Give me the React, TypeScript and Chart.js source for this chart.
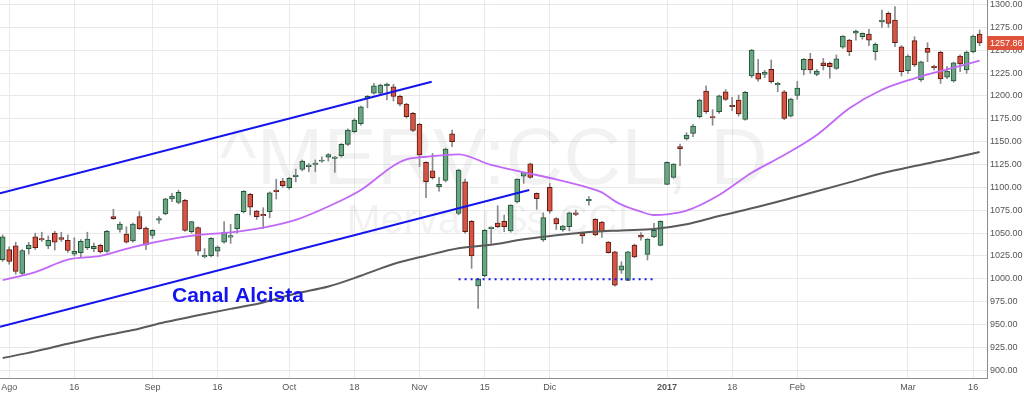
import React, { useEffect, useRef } from 'react';
import { Chart, registerables } from 'chart.js';

Chart.register(...registerables);

// One entry per trading day (index 0 = first candle, Jul 29 2016)
const opens = [
  1021, 1032, 1036, 1006, 1033, 1046, 1044, 1036, 1050, 1045, 1042, 1027, 1028.5, 1034, 1033, 1036.6, 1030, 1068, 1054, 1049, 1041.6, 1068, 1055.6, 1047.6, 1064.3, 1071,
  1087.3, 1083.7, 1085.8, 1051.5, 1056, 1024, 1025.3, 1030.4, 1040, 1045.7, 1055, 1073.4, 1092.4, 1074, 1070.5, 1073.4, 1097, 1107, 1099.6, 1111.7, 1119.7, 1122.6, 1125.2, 1128.8, 1133, 1131.8,
  1134.6, 1147, 1161, 1169.6, 1197.4, 1203, 1203, 1211, 1210, 1199.6, 1191, 1181, 1169, 1127.4, 1118, 1100.4, 1107.7, 1158.7, 1071.6, 1106.2, 1063, 992.4, 1003.5, 1055, 1061,
  1063, 1052.3, 1084, 1112.3, 1125.8, 1093.5, 1042.6, 1100, 1066, 1053.4, 1057, 1072.3, 1050, 1085.4, 1065, 1062, 1040.3, 1029.6, 1009.6, 998.4, 1037, 1047.8, 1026.8, 1045.8, 1036.6,
  1103.3, 1111, 1144.5, 1152.9, 1159, 1177.3, 1205.4, 1177.3, 1182.8, 1204.6, 1189.8, 1195.6, 1174.4, 1222, 1224.7, 1223.6, 1229, 1212.3, 1204.6, 1178, 1200.7, 1228.4, 1240, 1223.6, 1236.3, 1235.7,
  1230.2, 1253.2, 1261, 1268.5, 1264.8, 1267.7, 1248.4, 1281, 1290.4, 1283, 1253.8, 1227.6, 1260.4, 1217.4, 1252, 1232.4, 1247.7, 1220.4, 1216.3, 1243.7, 1228.4, 1248.4, 1267.7,
];
const highs = [
  1048, 1035, 1040, 1032, 1040, 1050, 1051, 1047, 1052, 1051, 1048, 1045, 1043, 1051, 1039, 1038, 1053, 1076, 1062, 1057, 1061, 1073.5, 1057, 1054, 1068, 1088,
  1093.5, 1097, 1087, 1063, 1057, 1033, 1045, 1036, 1062.5, 1059.6, 1071, 1096.5, 1093.5, 1075, 1077.8, 1095, 1109, 1110, 1111, 1120, 1130, 1126, 1130, 1133.5, 1137, 1134,
  1148, 1164, 1175, 1189, 1200.5, 1213.8, 1213, 1214, 1212.7, 1201, 1192, 1182, 1170, 1128, 1137.2, 1110.6, 1143, 1162.7, 1120, 1109, 1064, 1000.5, 1054, 1057, 1080,
  1069.8, 1081, 1109.5, 1117, 1126.5, 1094, 1072.3, 1104.4, 1067, 1058.5, 1073, 1075.3, 1051, 1090, 1066, 1063, 1041, 1030, 1018.7, 1030, 1038, 1050.5, 1044, 1060.7, 1063.5,
  1128, 1126, 1147.4, 1159.8, 1169, 1196.5, 1211, 1185, 1201, 1207, 1198.5, 1201, 1205, 1251, 1240, 1228, 1239.3, 1215, 1206, 1197.5, 1216, 1241, 1246.6, 1229, 1241, 1237,
  1244.8, 1266, 1262, 1272, 1269, 1272.9, 1258, 1294, 1292, 1297.6, 1255, 1245, 1264.8, 1238, 1258.2, 1233.8, 1249, 1232, 1237, 1245, 1249, 1266.5, 1272,
];
const lows = [
  1019, 1016, 1005, 1004, 1027, 1032, 1041, 1033, 1031.5, 1041, 1029, 1025, 1024, 1032, 1029.6, 1028, 1029, 1065, 1051, 1039, 1040, 1054, 1032, 1044.3, 1060.7, 1070,
  1084.3, 1082, 1052, 1050, 1026, 1023, 1024, 1024.6, 1039, 1038.8, 1050, 1072, 1069.8, 1065, 1055, 1066.8, 1087.3, 1100, 1098, 1106, 1118, 1117, 1117, 1127.4, 1128.8, 1116.5,
  1133, 1146, 1160, 1168, 1187, 1202, 1202, 1195.6, 1194.5, 1189, 1176, 1161, 1122.6, 1088.7, 1109, 1096, 1106, 1144.5, 1070, 1050, 1011.5, 967.7, 1002, 1038.8, 1056,
  1051.5, 1051, 1083, 1104.4, 1110, 1076, 1041, 1071.6, 1054, 1052, 1052.6, 1069, 1038.8, 1080.7, 1047, 1045.4, 1028, 992, 1006, 998, 1023, 1042.4, 1020.6, 1045, 1036,
  1103, 1110, 1123.7, 1151.8, 1155.4, 1176, 1181, 1168, 1181, 1195, 1183.9, 1178, 1173.5, 1220, 1216, 1220, 1214, 1204.6, 1174, 1177, 1196.3, 1223, 1224.7, 1222, 1228.4, 1219.3,
  1229, 1252, 1244, 1261, 1262, 1255, 1239.3, 1275, 1275, 1253.9, 1221.8, 1224.7, 1232, 1216, 1237.4, 1228.4, 1213.6, 1219, 1215, 1226.5, 1224.7, 1247, 1255,
];
const closes = [
  1046, 1019, 1008, 1031, 1037, 1034, 1042.5, 1042, 1040, 1043, 1031, 1030, 1041, 1043.5, 1035.5, 1029.6, 1052, 1065.7, 1060, 1040, 1060, 1055, 1037, 1053, 1066, 1087.5,
  1090.6, 1094.6, 1053, 1062.5, 1030.4, 1025.7, 1044.3, 1034.8, 1051, 1047.3, 1070.5, 1095.7, 1078.5, 1068, 1069, 1094, 1095.3, 1102, 1110, 1113.5, 1128.8, 1124.5, 1126.6, 1130, 1136, 1133.2,
  1147, 1162.7, 1173.7, 1188, 1199.6, 1211, 1212, 1213, 1199.6, 1191, 1177.3, 1162.4, 1135.4, 1106.2, 1110.6, 1103.3, 1142, 1150, 1119, 1051.5, 1025, 1000, 1053, 1056.6, 1057,
  1057, 1080.7, 1109, 1116.6, 1111, 1087.6, 1067, 1074, 1060, 1057.8, 1072.3, 1070.5, 1047, 1087, 1048, 1051.5, 1028.6, 993, 1014.3, 1029.6, 1024, 1045.6, 1043.5, 1053, 1062.8,
  1127.4, 1125.5, 1142.3, 1157.3, 1167, 1195.6, 1182.8, 1176.2, 1200, 1196.3, 1188.2, 1180.3, 1204, 1250.2, 1218.2, 1226.2, 1215.6, 1213.8, 1175.5, 1196.6, 1208.7, 1240, 1228.4, 1227.3, 1233, 1232,
  1240.7, 1265.5, 1248.4, 1271, 1268.5, 1261, 1256.5, 1283, 1279.4, 1258.2, 1226.5, 1243.7, 1233.8, 1237.4, 1247.7, 1231, 1218.5, 1227.3, 1236.3, 1234.9, 1248, 1265.5, 1257.86,
];

// Moving averages at selected candle indices
const maFastIdx = [0, 5, 10, 15, 20, 25, 30, 35, 40, 45, 50, 55, 60, 62, 65, 70, 75, 80, 85, 90, 92, 94, 95, 98, 100, 102, 105, 110, 115, 120, 125, 130, 135, 140, 145, 150];
const maFast = [998.7, 1007.4, 1021.1, 1025.1, 1034.8, 1042.4, 1048.1, 1050.9, 1056.1, 1064.5, 1079.1, 1097.1, 1123.7, 1130.6, 1133.5, 1136.2, 1124.5, 1116.5, 1108.8, 1099.6, 1094.6, 1085, 1081.2, 1073.4, 1069.8, 1070.5, 1074.5, 1091.7, 1116, 1135.4, 1157.3, 1186.5, 1206.8, 1219.3, 1229.1, 1238.5];
const maSlowIdx = [0, 5, 10, 15, 20, 25, 30, 35, 40, 45, 50, 55, 60, 65, 70, 75, 80, 85, 90, 95, 100, 105, 110, 115, 120, 125, 130, 135, 140, 145, 150];
const maSlow = [913.4, 920.7, 929, 936.9, 944, 952.8, 960.1, 967.2, 974.2, 983.9, 991.6, 1003.4, 1016.2, 1025.3, 1033.4, 1037.3, 1043.2, 1047.6, 1051.2, 1053, 1054.5, 1059.6, 1068.7, 1077.1, 1086.2, 1095.7, 1105.5, 1115.4, 1123.4, 1130.7, 1138.7];

// Drawn trend lines (index, price)
const upperChannel = [{ x: -0.41, y: 1093.5 }, { x: 65.87, y: 1215.6 }];
const lowerChannel = [{ x: -0.41, y: 947.6 }, { x: 80.85, y: 1097.1 }];
const supportLine = [{ x: 70, y: 999.5 }, { x: 100, y: 999.5 }];
const channelLabel = { text: 'Canal Alcista', x: 26, y: 975 };

const xTickIdx = [1, 11, 23, 33, 44, 54, 64, 74, 84, 102, 112, 122, 139, 149];
const xTickLabels = ['Ago', '16', 'Sep', '16', 'Oct', '18', 'Nov', '15', 'Dic', '2017', '18', 'Feb', 'Mar', '16'];
const yTickValues = [900, 925, 950, 975, 1000, 1025, 1050, 1075, 1100, 1125, 1150, 1175, 1200, 1225, 1250, 1275, 1300];

const FONT = '"Liberation Sans", Arial, sans-serif';
const UP = '#6ba583';
const DOWN = '#d75442';
const UP_BORDER = '#225437';
const DOWN_BORDER = '#5b1a13';
const BLUE = '#1414ee';

export default function App() {
  const ref = useRef<HTMLCanvasElement | null>(null);

  useEffect(() => {
    document.body.style.margin = '0';
    const canvas = ref.current;
    if (!canvas) return;
    const idx = opens.map((_, i) => i);
    const isUp = (i: number) => closes[i] >= opens[i];

    const overlay = {
      id: 'overlay',
      beforeDatasetsDraw(chart: any) {
        const { ctx, chartArea: a } = chart;
        ctx.save();
        ctx.fillStyle = 'rgba(0,0,0,0.05)';
        ctx.textAlign = 'center';
        ctx.textBaseline = 'alphabetic';
        const cx = (a.left + a.right) / 2;
        ctx.font = `80px ${FONT}`;
        ctx.fillText('^MERV:CCL, D', cx, a.top + 184);
        ctx.font = `41px ${FONT}`;
        ctx.fillText('Merval u$s CCL', cx, a.top + 233);
        ctx.restore();
      },
      afterDatasetsDraw(chart: any) {
        const { ctx, scales } = chart;
        ctx.save();
        ctx.fillStyle = BLUE;
        ctx.font = `bold 21px ${FONT}`;
        ctx.textAlign = 'left';
        ctx.textBaseline = 'alphabetic';
        ctx.fillText(channelLabel.text, scales.x.getPixelForValue(channelLabel.x), scales.y.getPixelForValue(channelLabel.y));
        ctx.restore();
      },
      afterDraw(chart: any) {
        const { ctx, chartArea: a, scales } = chart;
        const last = closes[closes.length - 1];
        const py = scales.y.getPixelForValue(last);
        ctx.save();
        ctx.fillStyle = '#e0513c';
        ctx.fillRect(a.right, py - 7, chart.width - a.right, 14);
        ctx.fillStyle = '#ffffff';
        ctx.font = `9px ${FONT}`;
        ctx.textAlign = 'left';
        ctx.textBaseline = 'middle';
        ctx.fillText(last.toFixed(2), a.right + 3, py + 0.5);
        ctx.restore();
      },
    };

    const chart = new Chart(canvas, {
      type: 'bar',
      data: {
        datasets: [
          {
            type: 'line',
            data: maFastIdx.map((x, k) => ({ x, y: maFast[k] })),
            borderColor: '#c168f7',
            borderWidth: 1.8,
            pointRadius: 0,
            cubicInterpolationMode: 'monotone',
            order: 0,
          } as any,
          {
            type: 'line',
            data: maSlowIdx.map((x, k) => ({ x, y: maSlow[k] })),
            borderColor: '#5a5a5a',
            borderWidth: 2,
            pointRadius: 0,
            cubicInterpolationMode: 'monotone',
            order: 0,
          } as any,
          {
            type: 'line',
            data: upperChannel,
            borderColor: BLUE,
            borderWidth: 2,
            pointRadius: 0,
            order: 0,
          } as any,
          {
            type: 'line',
            data: lowerChannel,
            borderColor: BLUE,
            borderWidth: 2,
            pointRadius: 0,
            order: 0,
          } as any,
          {
            type: 'line',
            data: supportLine,
            borderColor: BLUE,
            borderWidth: 2,
            borderDash: [2, 4],
            pointRadius: 0,
            order: 0,
          } as any,
          {
            type: 'bar',
            data: idx.map((i) => ({ x: i, y: [opens[i], closes[i]] })),
            backgroundColor: (c: any) => (isUp(c.dataIndex) ? UP : DOWN),
            borderColor: (c: any) => (isUp(c.dataIndex) ? UP_BORDER : DOWN_BORDER),
            borderWidth: 1,
            borderSkipped: false,
            barThickness: 5,
            grouped: false,
            order: 1,
          } as any,
          {
            type: 'bar',
            data: idx.map((i) => ({ x: i, y: [lows[i], highs[i]] })),
            backgroundColor: '#8a8a8c',
            borderWidth: 0,
            barThickness: 1,
            grouped: false,
            order: 2,
          } as any,
        ],
      },
      options: {
        animation: false,
        responsive: false,
        maintainAspectRatio: false,
        layout: { padding: 0 },
        plugins: { legend: { display: false }, tooltip: { enabled: false } },
        scales: {
          x: {
            type: 'linear',
            min: -0.41,
            max: 151.13,
            offset: false,
            afterBuildTicks: (s: any) => {
              s.ticks = xTickIdx.map((v) => ({ value: v }));
            },
            afterFit: (s: any) => {
              s.height = 15;
              s.paddingLeft = 0;
              s.paddingRight = 0;
              s.paddingTop = 0;
              s.paddingBottom = 0;
            },
            ticks: {
              autoSkip: false,
              maxRotation: 0,
              padding: 4,
              color: '#555',
              font: (c: any) => ({
                size: 9,
                family: FONT,
                weight: c.tick && c.tick.value === 102 ? 'bold' : 'normal',
              }),
              callback: (v: any) => {
                const k = xTickIdx.indexOf(Number(v));
                return k >= 0 ? xTickLabels[k] : '';
              },
            },
            grid: { color: '#e9e9e9', drawTicks: false, offset: false },
            border: { display: true, color: '#8c8c8c' },
          },
          y: {
            type: 'linear',
            position: 'right',
            min: 891.6,
            max: 1304.9,
            afterBuildTicks: (s: any) => {
              s.ticks = yTickValues.map((v) => ({ value: v }));
            },
            afterFit: (s: any) => {
              s.width = 37;
              s.paddingTop = 0;
              s.paddingBottom = 0;
              s.paddingLeft = 0;
              s.paddingRight = 0;
            },
            ticks: {
              padding: 3,
              color: '#555',
              font: { size: 9, family: FONT },
              callback: (v: any) => Number(v).toFixed(2),
            },
            grid: { color: '#e9e9e9', drawTicks: false },
            border: { display: true, color: '#8c8c8c' },
          },
        },
      } as any,
      plugins: [overlay],
    });

    return () => chart.destroy();
  }, []);

  return <canvas ref={ref} width={1024} height={393} style={{ display: 'block' }} />;
}
